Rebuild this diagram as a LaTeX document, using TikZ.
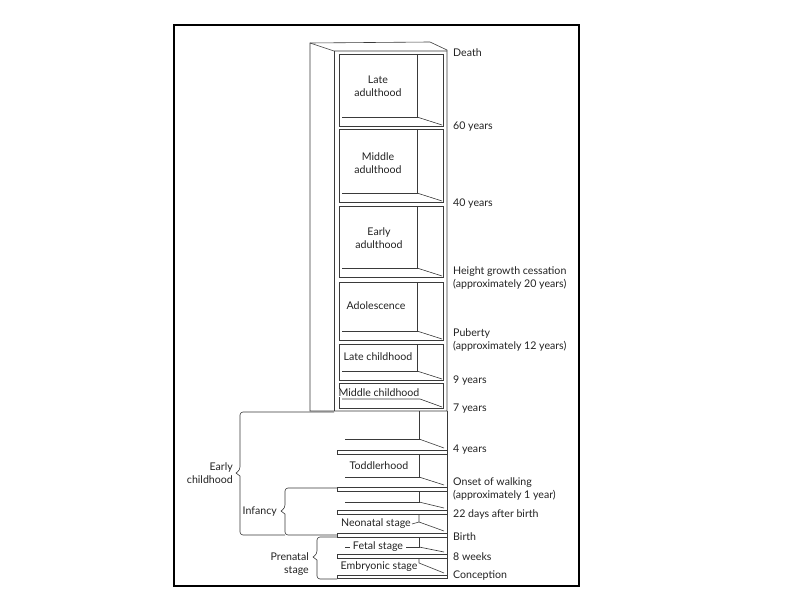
\documentclass[tikz,border=0pt]{standalone}
\usepackage{fontspec}
\setmainfont{Lato}
\definecolor{ink}{HTML}{222222}
\definecolor{wood}{HTML}{3A3A3A}
\tikzset{shelf/.style={draw=wood,line width=0.6pt},
lab/.style={font=\fontsize{10.6}{12.5}\selectfont,text=ink,inner sep=0pt},
age/.style={lab,anchor=west,align=left},
stage/.style={lab,align=center,inner sep=1pt},
group/.style={lab,anchor=east,align=right},
brace/.style={draw=wood,line width=0.6pt,rounded corners=3pt}}

\begin{document}
\begin{tikzpicture}[x=1pt,y=-1pt]
\useasboundingbox (0,0) rectangle (792,612);
\draw[black,line width=1.1pt] (174,25) rectangle (579,586);

\draw[shelf] (310,43) -- (430,42) -- (447,50) -- (447,411) -- (310,411) -- cycle;
\draw[shelf] (310,43) -- (334,51) -- (447,51);
\draw[shelf] (334,51) -- (334,411);
\foreach \t/\b in {54/126,129/202,206/277,282/340,344/380}{
  \draw[shelf] (339,\t) rectangle (443,\b);
  \draw[shelf] (417,\t) -- (417,\b-9) -- (342,\b-9);
  \draw[shelf] (417,\b-9) -- (442,\b-1);
}
\draw[shelf] (339,383) rectangle (443,408);
\draw[shelf] (342,399) -- (420,399) -- (442,407);

\draw[shelf] (447,411) -- (447,578);
\foreach \y in {450,487,510,533,554}
  \draw[shelf] (337,\y) rectangle (447,\y+4);
\draw[shelf] (337,575) rectangle (447,578);
\foreach \t/\f/\b in {411/439/450,454/477/487,491/502/510}{
  \draw[shelf] (419,\t) -- (419,\f) -- (345,\f);
  \draw[shelf] (419,\f) -- (444,\b-2);
}

\node[stage] (late) at (378,86) {Late\\adulthood};
\node[stage] (middle) at (378,163) {Middle\\adulthood};
\node[stage] (early) at (379,238) {Early\\adulthood};
\node[stage] (adol) at (376,306) {Adolescence};
\node[stage] (latech) at (378,357) {Late childhood};
\node[stage,fill=white,inner sep=0.5pt] (midch) at (379,393) {Middle childhood};
\node[stage] (toddler) at (379,466) {Toddlerhood};
\node[stage] (neonatal) at (376,524) {Neonatal stage};
\node[stage,inner xsep=3pt] (fetal) at (378,547) {Fetal stage};
\node[stage] (embryo) at (379,567) {Embryonic stage};

\draw[shelf] (419,514) -- (419,522) -- (neonatal.east);
\draw[shelf] (419,522) -- (444,531);
\draw[shelf] (345,547) -- (fetal.west);
\draw[shelf] (fetal.east) -- (419,547) -- (419,537);
\draw[shelf] (419,547) -- (444,552);
\draw[shelf] (419,558) -- (419,563) -- (444,573);

\node[age] (death) at (453,53) {Death};
\node[age] (sixty) at (453,127) {60 years};
\node[age] (forty) at (453,204) {40 years};
\node[age] (height) at (453,278) {Height growth cessation\\(approximately 20 years)};
\node[age] (puberty) at (453,340) {Puberty\\(approximately 12 years)};
\node[age] (nine) at (453,381) {9 years};
\node[age] (seven) at (453,409) {7 years};
\node[age] (four) at (453,450) {4 years};
\node[age] (walk) at (453,489) {Onset of walking\\(approximately 1 year)};
\node[age] (days) at (453,515) {22 days after birth};
\node[age] (birth) at (453,537) {Birth};
\node[age] (eight) at (453,557) {8 weeks};
\node[age] (concep) at (453,576) {Conception};

\node[group] (earlych) at (233,473) {Early\\childhood};
\node[group] (infancy) at (277,512) {Infancy};
\node[group] (prenatal) at (309,564) {Prenatal\\stage};

\draw[brace] (334,412) -| (240,470) [sharp corners] -- (236,473) -- (240,476) [rounded corners=3pt] |- (285,535);
\draw[brace] (337,488) -| (285,508) [sharp corners] -- (281,511) -- (285,514) [rounded corners=3pt] |- (337,535);
\draw[brace] (337,537) -| (317,554) [sharp corners] -- (313,557) -- (317,560) [rounded corners=3pt] |- (337,579);
\end{tikzpicture}
\end{document}
